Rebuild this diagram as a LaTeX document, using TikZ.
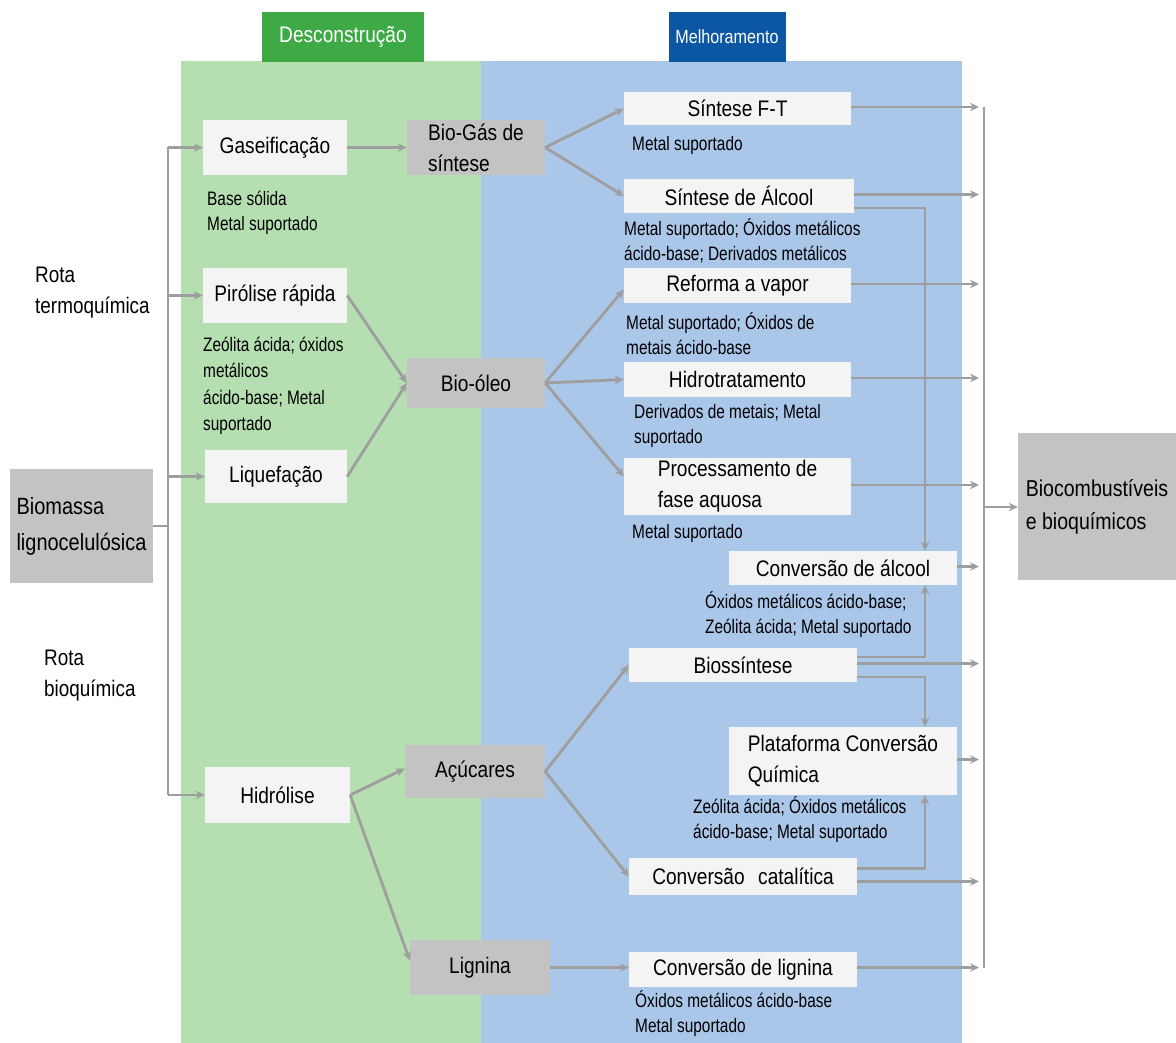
\documentclass[tikz,border=0pt]{standalone}
\usepackage{fontspec}
\setmainfont{Liberation Sans}[FakeStretch=0.85]
\newfontfamily\notefont{Liberation Sans}[FakeStretch=0.79]
\newfontfamily\routefont{Liberation Sans}[FakeStretch=0.84]
\usetikzlibrary{arrows.meta}
\definecolor{panelgreen}{HTML}{B5DFB0}
\definecolor{panelblue}{HTML}{AAC6E9}
\definecolor{headgreen}{HTML}{3DAA46}
\definecolor{headblue}{HTML}{0B57A4}
\definecolor{boxgray}{HTML}{C3C3C3}
\definecolor{boxwhite}{HTML}{F4F4F4}
\definecolor{linkgray}{HTML}{9E9E9E}

\begin{document}
\begin{tikzpicture}[x=1pt,y=-1pt,
  txt/.style={font=\fontsize{22.5}{31}\selectfont},
  wbox/.style={txt, fill=boxwhite, inner sep=0pt, align=center},
  gbox/.style={txt, fill=boxgray, inner sep=0pt, align=left},
  catnote/.style={font=\notefont\fontsize{19.5}{25}\selectfont, align=left, anchor=north west, inner sep=0pt},
  routelabel/.style={font=\routefont\fontsize{22.5}{31.5}\selectfont, align=left, anchor=north west, inner sep=0pt},
  stagehead/.style={text=white, inner sep=0pt, minimum height=50pt},
  link/.style={draw=linkgray, line width=2.8pt},
  arr/.style={link, -{Stealth[length=9pt,width=8.5pt]}},
]
\useasboundingbox (0,0) rectangle (1176,1043);

% stage panels and their headers
\fill[panelgreen] (181,61) rectangle (481,1043);
\fill[panelblue] (481,61) rectangle (962,1043);
\node[stagehead, fill=headgreen, minimum width=162pt, font=\fontsize{22.5}{26}\selectfont] (hdec) at (343,37) {Desconstrução};
\node[stagehead, fill=headblue, minimum width=117pt, font=\fontsize{19}{22}\selectfont] (hmel) at (727,37) {Melhoramento};

% feedstock and routes
\node[gbox, minimum width=143pt, minimum height=114pt, font=\fontsize{23.5}{36}\selectfont] (bio) at (81.5,526) {Biomassa\\lignocelulósica};
\node[routelabel] (rtermo) at (35,260) {\strut Rota\\termoquímica};
\node[routelabel] (rbioq) at (44,643) {\strut Rota\\bioquímica};

% deconstruction steps
\node[wbox, minimum width=144pt, minimum height=55pt] (gas) at (275,147.5) {Gaseificação};
\node[wbox, minimum width=144pt, minimum height=55pt] (pir) at (275,295.5) {Pirólise rápida};
\node[wbox, minimum width=142pt, minimum height=53pt] (liq) at (276,476.5) {Liquefação};
\node[wbox, minimum width=145pt, minimum height=56pt] (hid) at (277.5,795) {Hidrólise};
\node[catnote] (cgas) at (207,187.5) {\strut Base sólida\\Metal suportado};
\node[catnote, font=\notefont\fontsize{19.5}{26.5}\selectfont] (cpir) at (203,332.5) {\strut Zeólita ácida; óxidos\\metálicos\\ácido-base; Metal\\suportado};

% intermediates
\node[gbox, minimum width=138pt, minimum height=55pt] (biogas) at (476,147.5) {Bio-Gás de\\síntese};
\node[gbox, minimum width=138pt, minimum height=50pt] (oleo) at (476,383) {Bio-óleo};
\node[gbox, minimum width=140pt, minimum height=53pt] (acu) at (475,771.5) {Açúcares};
\node[gbox, minimum width=140pt, minimum height=55pt] (lig) at (480,967.5) {Lignina};

% upgrading steps
\node[wbox, minimum width=227pt, minimum height=33pt] (ft) at (737.5,108.5) {Síntese F-T};
\node[wbox, minimum width=230pt, minimum height=34pt] (alc) at (739,196) {Síntese de Álcool};
\node[wbox, minimum width=227pt, minimum height=35pt] (ref) at (737.5,285.5) {Reforma a vapor};
\node[wbox, minimum width=227pt, minimum height=35pt] (hidt) at (737.5,379.5) {Hidrotratamento};
\node[wbox, minimum width=227pt, minimum height=57pt, align=left] (proc) at (737.5,486.5) {Processamento de\\fase aquosa};
\node[wbox, minimum width=228pt, minimum height=34pt] (calc) at (843,568) {Conversão de álcool};
\node[wbox, minimum width=228pt, minimum height=34pt] (bios) at (743,665) {Biossíntese};
\node[wbox, minimum width=228pt, minimum height=68pt, align=left] (plat) at (843,761) {Plataforma Conversão\\Química};
\node[wbox, minimum width=228pt, minimum height=37pt] (cat) at (743,876.5) {Conversão\hspace{0.6em}catalítica};
\node[wbox, minimum width=228pt, minimum height=35pt] (clig) at (743,969.5) {Conversão de lignina};

\node[catnote] (cft) at (632,133) {\strut Metal suportado};
\node[catnote] (calcc) at (624,217.5) {\strut Metal suportado; Óxidos metálicos\\ácido-base; Derivados metálicos};
\node[catnote] (cref) at (626,311.5) {\strut Metal suportado; Óxidos de\\metais ácido-base};
\node[catnote] (chidt) at (634,400.5) {\strut Derivados de metais; Metal\\suportado};
\node[catnote] (cproc) at (632,520.5) {\strut Metal suportado};
\node[catnote] (ccalc) at (705,590.5) {\strut Óxidos metálicos ácido-base;\\Zeólita ácida; Metal suportado};
\node[catnote] (cplat) at (693,795.5) {\strut Zeólita ácida; Óxidos metálicos\\ácido-base; Metal suportado};
\node[catnote] (cclig) at (635,989.5) {\strut Óxidos metálicos ácido-base\\Metal suportado};

% products
\node[gbox, minimum width=158pt, minimum height=147pt, font=\fontsize{23}{33}\selectfont] (fuel) at (1097,506.5) {Biocombustíveis\\e bioquímicos};

% guide coordinates for the vertical runs
\coordinate (sp) at (168,0);
\coordinate (vr) at (925,0);
\coordinate (ca) at (979,0);
\coordinate (ct) at (984,0);
\coordinate (cm) at (984,507);

% feedstock spine
\draw[link] (bio.east) -- (bio.east -| sp);
\draw[link] (gas.west -| sp) -- (hid.west -| sp);
\foreach \n in {gas,pir,liq,hid} \draw[arr] (\n.west -| sp) -- (\n.west);

% deconstruction to intermediates
\draw[arr] (gas.east) -- (biogas.west);
\draw[arr] (pir.east) -- (oleo.west);
\draw[arr] (liq.east) -- (oleo.west);
\draw[arr] (hid.east) -- ([yshift=3pt]acu.west);
\draw[arr] (hid.east) -- ([yshift=7pt]lig.west);

% intermediates to upgrading
\draw[arr] (biogas.east) -- (ft.west);
\draw[arr] (biogas.east) -- (alc.west);
\draw[arr] (oleo.east) -- ([yshift=-4pt]ref.west);
\draw[arr] (oleo.east) -- (hidt.west);
\draw[arr] (oleo.east) -- ([yshift=10pt]proc.west);
\draw[arr] (acu.east) -- (bios.west);
\draw[arr] (acu.east) -- (cat.west);
\draw[arr] (lig.east) -- (lig.east -| clig.west);

% cross links between upgrading steps
\draw[arr] ([yshift=-12pt]alc.east) -| (vr |- calc.north);
\draw[arr] ([yshift=8pt]bios.east) -| (vr |- calc.south);
\draw[arr] ([yshift=-12pt]bios.east) -| (vr |- plat.north);
\draw[arr] ([yshift=8pt]cat.east) -| (vr |- plat.south);

% collector to products
\draw[link] ([yshift=1.5pt]ft.east -| ct) -- ([yshift=2pt]clig.east -| ct);
\foreach \n in {ft,alc,ref,hidt,proc,calc,bios,plat}
  \draw[arr] ([yshift=1.5pt]\n.east) -- ([yshift=1.5pt]\n.east -| ca);
\draw[arr] ([yshift=-5pt]cat.east) -- ([yshift=-5pt]cat.east -| ca);
\draw[arr] ([yshift=2pt]clig.east) -- ([yshift=2pt]clig.east -| ca);
\draw[arr] (cm) -- (fuel.west |- cm);
\end{tikzpicture}
\end{document}
